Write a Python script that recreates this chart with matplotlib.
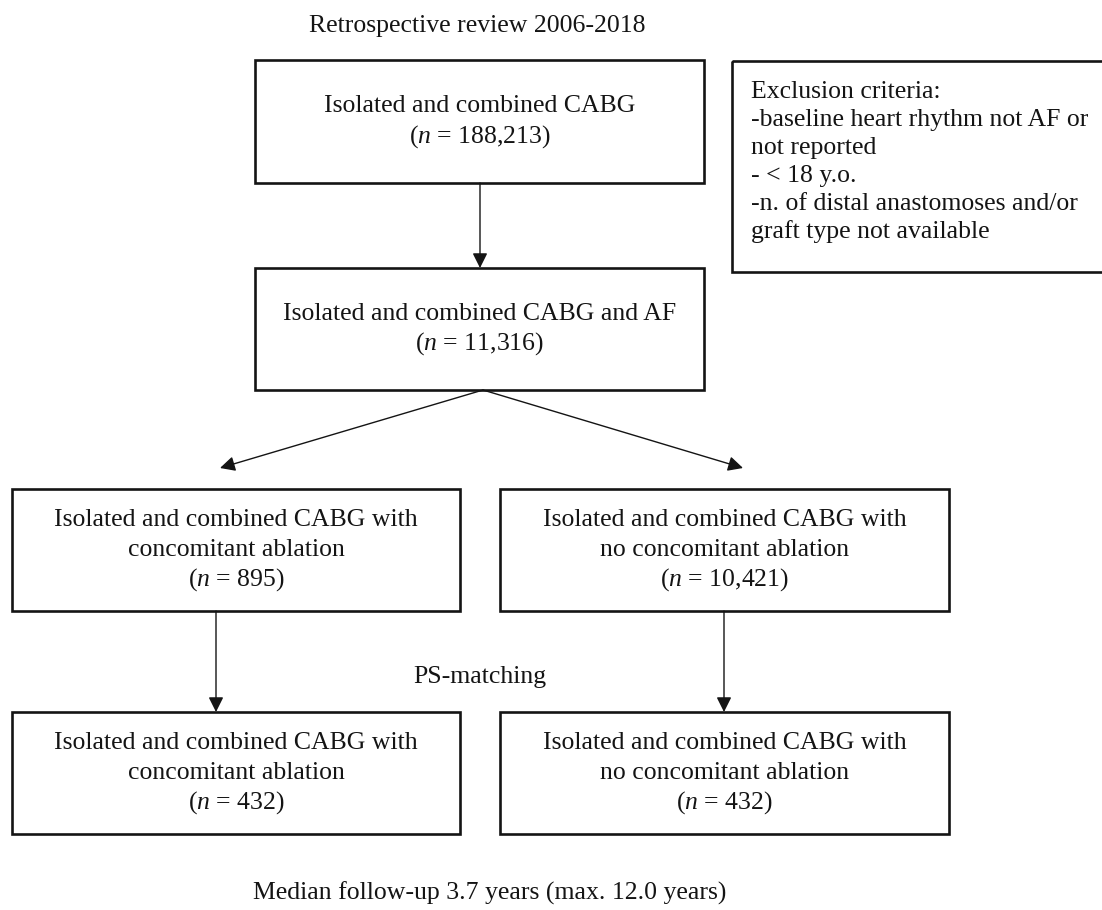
import matplotlib
matplotlib.use("Agg")
import matplotlib.pyplot as plt
from matplotlib.patches import Rectangle

plt.rcParams['font.family'] = ['Liberation Serif', 'DejaVu Serif']
plt.rcParams['mathtext.fontset'] = 'custom'
plt.rcParams['mathtext.rm'] = 'Liberation Serif'
plt.rcParams['mathtext.it'] = 'Liberation Serif:italic'

# ---- content ----
title_text = "Retrospective review 2006-2018"
footer_text = "Median follow-up 3.7 years (max. 12.0 years)"
match_text = "PS-matching"
box_labels = [
    "Isolated and combined CABG",
    "Isolated and combined CABG and AF",
    "Isolated and combined CABG with\nconcomitant ablation",
    "Isolated and combined CABG with\nno concomitant ablation",
    "Isolated and combined CABG with\nconcomitant ablation",
    "Isolated and combined CABG with\nno concomitant ablation",
]
box_n = ["188,213", "11,316", "895", "10,421", "432", "432"]
exclusion_lines = [
    "Exclusion criteria:",
    "-baseline heart rhythm not AF or",
    "not reported",
    "- < 18 y.o.",
    "-n. of distal anastomoses and/or",
    "graft type not available",
]

# ---- layout (pixel coordinates, y downward) ----
W, H = 1102, 910
boxes = [  # x0, y0, x1, y1
    (255, 60, 704, 183),
    (255, 268, 704, 390),
    (12, 489, 460, 611),
    (500, 489, 949, 611),
    (12, 712, 460, 834),
    (500, 712, 949, 834),
]
excl_box = (732, 61, 1110, 272)
arrows = [  # (start, end)
    ((480, 183), (480, 268)),
    ((483, 390), (220, 468)),
    ((483, 390), (743, 468)),
    ((216, 611), (216, 712)),
    ((724, 611), (724, 712)),
]

fs = 18.5
ink = '#141414'
line_step = 30
fig = plt.figure(figsize=(W / 100, H / 100), dpi=100)
ax = fig.add_axes([0, 0, 1, 1])
ax.set_xlim(0, W)
ax.set_ylim(H, 0)
ax.axis('off')

for (x0, y0, x1, y1), lab, n in zip(boxes, box_labels, box_n):
    ax.add_patch(Rectangle((x0, y0), x1 - x0, y1 - y0, fill=False,
                           edgecolor=ink, linewidth=1.9))
    lines = lab.split("\n") + ["(" + r"$\mathit{n}$" + " = " + n + ")"]
    cy = (y0 + y1) / 2
    start = cy - (len(lines) - 1) * line_step / 2
    for i, ln in enumerate(lines):
        ax.text((x0 + x1) / 2, start + i * line_step, ln, ha='center',
                va='center', fontsize=fs, color=ink)

x0, y0, x1, y1 = excl_box
ax.add_patch(Rectangle((x0, y0), x1 - x0, y1 - y0, fill=False,
                       edgecolor=ink, linewidth=1.9, clip_on=False))
for i, line in enumerate(exclusion_lines):
    ax.text(751, 92 + i * 28, line, ha='left', va='center', fontsize=fs,
            color=ink)

for (s, e) in arrows:
    ax.annotate("", xy=e, xytext=s,
                arrowprops=dict(arrowstyle="-|>,head_length=0.9,head_width=0.45",
                                color=ink, lw=1.0, shrinkA=0, shrinkB=0))

ax.text(477, 26, title_text, ha='center', va='center', fontsize=fs, color=ink)
ax.text(480, 677, match_text, ha='center', va='center', fontsize=fs, color=ink)
ax.text(490, 893, footer_text, ha='center', va='center', fontsize=fs, color=ink)

fig.savefig("out.png", dpi=100, facecolor='white')
